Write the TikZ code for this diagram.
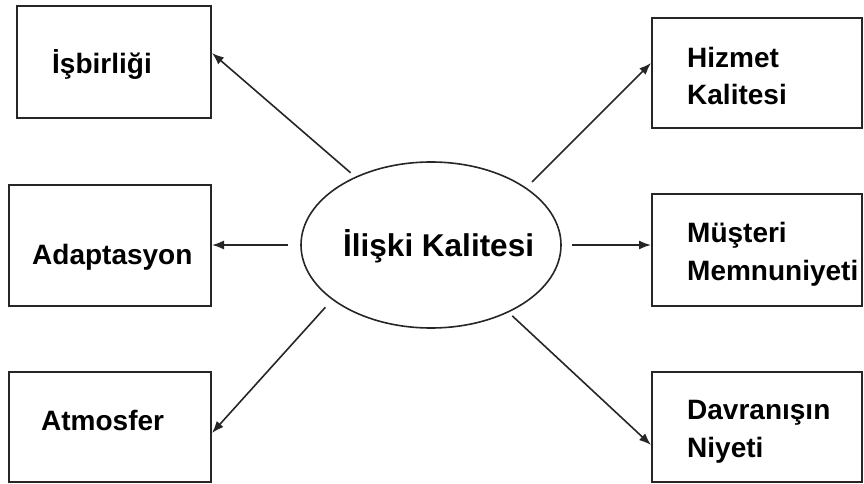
\documentclass[tikz,border=0pt]{standalone}
\usepackage{fontspec}
\setmainfont{Liberation Sans}
\usetikzlibrary{
arrows.meta,
shapes.geometric
}

\begin{document}
\begin{tikzpicture}[
x=1pt,y=-1pt,
box/.style={
draw=black!85,
line width=2pt,
inner sep=0pt
},
boxtext/.style={
anchor=base west,
align=left,
inner sep=0pt,
font=\bfseries\fontsize{28}{37.5}\selectfont
},
arrow/.style={-{Latex[length=12pt,width=9pt]},line width=1.6pt,draw=black!85}
]

\useasboundingbox (0,0) rectangle (864,484);

% left column
\node[box,minimum width=194pt,minimum height=112pt] (coop) at (114,62) {};
\node[box,minimum width=202pt,minimum height=121pt] (adapt) at (110,245.5) {};
\node[box,minimum width=202pt,minimum height=110pt] (atmo) at (110,427) {};

% right column
\node[box,minimum width=210pt,minimum height=110pt] (service) at (757,73) {};
\node[box,minimum width=210pt,minimum height=112pt] (satis) at (757,250) {};
\node[box,minimum width=210pt,minimum height=110pt] (behav) at (757,427) {};

% centre
\node[draw=black!85,ellipse,line width=1.6pt,inner sep=0pt,
minimum width=260pt,minimum height=166pt] (rq) at (431,245) {};

% texts (base = last line)
\node[boxtext,font=\bfseries\fontsize{31.5}{37.5}\selectfont] (rqText) at (343,256) {İlişki Kalitesi};
\node[boxtext] (coopText) at (52,74) {İşbirliği};
\node[boxtext] (adaptText) at (32,264) {Adaptasyon};
\node[boxtext] (atmoText) at (41,430) {Atmosfer};
\node[boxtext] (serviceText) at (687,105) {Hizmet\\Kalitesi};
\node[boxtext] (satisText) at (687,280) {Müşteri\\Memnuniyeti};
\node[boxtext] (behavText) at (687,457) {Davranışın\\Niyeti};

\draw[arrow,shorten <=6pt] (rq.138) -- ([yshift=9pt]coop.east);
\draw[arrow,shorten <=12pt] (rq.west) -- (rq.west -| adapt.east);
\draw[arrow,shorten <=10pt] (rq.209) -- ([yshift=-6pt]atmo.east);
\draw[arrow,shorten <=8pt] (rq.31.5) -- ([yshift=10pt]service.west);
\draw[arrow,shorten <=10pt] (rq.east) -- (rq.east -| satis.west);
\draw[arrow,shorten <=5pt] (rq.319) -- ([yshift=-18pt]behav.west);

\end{tikzpicture}
\end{document}
